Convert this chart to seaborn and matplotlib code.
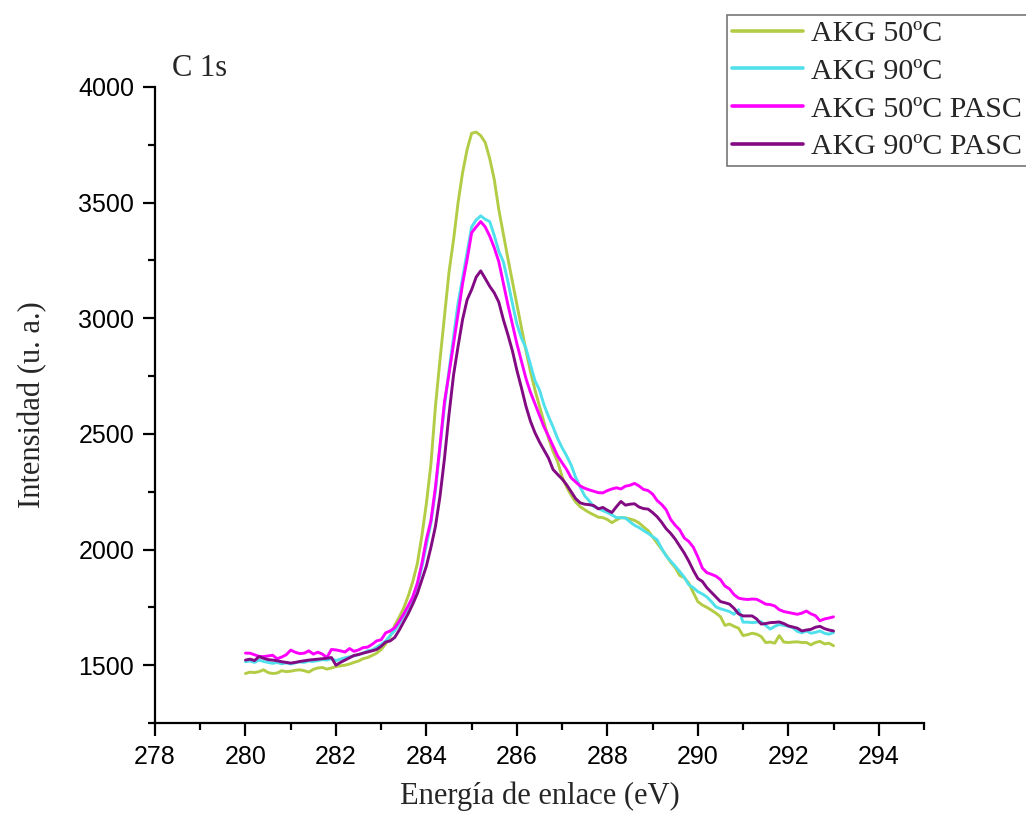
import numpy as np
import pandas as pd
import matplotlib
matplotlib.use("Agg")
import matplotlib.pyplot as plt
import seaborn as sns
from matplotlib.ticker import MultipleLocator

# ---------------- data ----------------
energy = np.round(np.arange(280.0, 293.05, 0.1), 1)

akg50 = [1464, 1470, 1468, 1472, 1480, 1468, 1464, 1466, 1476, 1472,
         1474, 1478, 1480, 1476, 1470, 1482, 1488, 1490, 1483, 1488,
         1494, 1497, 1500, 1505, 1512, 1518, 1528, 1533, 1542, 1552,
         1568, 1592, 1625, 1672, 1708, 1748, 1800, 1862, 1940, 2060,
         2200, 2370, 2620, 2820, 3010, 3200, 3340, 3500, 3630, 3730,
         3800, 3805, 3790, 3760, 3690, 3600, 3470, 3365, 3260, 3160,
         3060, 2960, 2860, 2770, 2690, 2620, 2550, 2480, 2425, 2380,
         2315, 2270, 2235, 2205, 2185, 2172, 2160, 2150, 2140, 2138,
         2130, 2116, 2128, 2138, 2137, 2132, 2126, 2115, 2098, 2082,
         2055, 2028, 2002, 1975, 1945, 1922, 1888, 1878, 1855, 1814,
         1775, 1760, 1750, 1738, 1725, 1710, 1672, 1678, 1668, 1660,
         1628, 1632, 1638, 1634, 1624, 1598, 1600, 1595, 1628, 1600,
         1598, 1600, 1601, 1598, 1598, 1588, 1598, 1603, 1592, 1595,
         1584]

akg90 = [1515, 1518, 1512, 1522, 1516, 1512, 1508, 1512, 1506, 1510,
         1505, 1510, 1514, 1512, 1518, 1516, 1520, 1524, 1522, 1528,
         1520, 1526, 1532, 1536, 1540, 1546, 1552, 1562, 1566, 1578,
         1590, 1605, 1628, 1650, 1680, 1715, 1750, 1790, 1845, 1925,
         2020, 2115, 2255, 2440, 2620, 2775, 2920, 3066, 3175, 3285,
         3395, 3425, 3443, 3428, 3418, 3358, 3290, 3245, 3160, 3065,
         2975, 2915, 2870, 2800, 2730, 2690, 2625, 2575, 2530, 2480,
         2440, 2405, 2365, 2312, 2270, 2232, 2210, 2186, 2178, 2168,
         2160, 2150, 2138, 2138, 2136, 2120, 2105, 2095, 2082, 2070,
         2056, 2042, 2005, 1972, 1950, 1928, 1905, 1880, 1848, 1835,
         1818, 1808, 1795, 1775, 1752, 1744, 1738, 1732, 1720, 1740,
         1686, 1686, 1684, 1686, 1688, 1672, 1656, 1668, 1676, 1672,
         1668, 1662, 1646, 1640, 1648, 1638, 1642, 1648, 1638, 1634,
         1641]

akg50_pasc = [1552, 1552, 1545, 1538, 1537, 1540, 1543, 1528, 1535, 1545,
              1565, 1556, 1550, 1552, 1562, 1548, 1556, 1548, 1533, 1568,
              1566, 1562, 1557, 1572, 1560, 1566, 1576, 1578, 1590, 1605,
              1610, 1640, 1648, 1662, 1690, 1722, 1758, 1796, 1855, 1940,
              2044, 2125, 2270, 2450, 2640, 2760, 2890, 3020, 3150, 3255,
              3370, 3395, 3418, 3395, 3355, 3305, 3245, 3152, 3060, 2975,
              2890, 2815, 2740, 2680, 2630, 2580, 2530, 2490, 2447, 2405,
              2375, 2346, 2310, 2292, 2275, 2265, 2258, 2252, 2246, 2245,
              2255, 2262, 2267, 2262, 2274, 2278, 2286, 2275, 2260, 2255,
              2240, 2212, 2195, 2172, 2130, 2105, 2085, 2050, 2035, 2010,
              1968, 1920, 1900, 1893, 1885, 1870, 1842, 1830, 1805, 1790,
              1786, 1784, 1786, 1785, 1775, 1764, 1762, 1756, 1740, 1732,
              1728, 1724, 1720, 1725, 1734, 1722, 1714, 1692, 1700, 1704,
              1709]

akg90_pasc = [1522, 1526, 1520, 1537, 1530, 1524, 1522, 1519, 1515, 1512,
              1509, 1512, 1516, 1519, 1522, 1524, 1526, 1528, 1530, 1533,
              1500, 1512, 1522, 1532, 1542, 1546, 1552, 1557, 1562, 1568,
              1582, 1600, 1605, 1620, 1652, 1688, 1724, 1765, 1810, 1870,
              1929, 2010, 2100, 2230, 2395, 2585, 2755, 2879, 2995, 3080,
              3124, 3178, 3205, 3172, 3138, 3110, 3070, 2995, 2930, 2860,
              2775, 2700, 2620, 2555, 2505, 2465, 2430, 2395, 2346, 2325,
              2305, 2280, 2250, 2220, 2202, 2196, 2194, 2190, 2176, 2182,
              2170, 2160, 2185, 2208, 2192, 2196, 2198, 2184, 2177, 2175,
              2160, 2142, 2118, 2090, 2070, 2045, 2015, 1985, 1950, 1910,
              1875, 1862, 1835, 1815, 1795, 1775, 1770, 1764, 1746, 1722,
              1713, 1713, 1713, 1700, 1678, 1680, 1684, 1685, 1687, 1680,
              1670, 1665, 1660, 1648, 1652, 1655, 1664, 1668, 1658, 1652,
              1648]

series_names = ["AKG 50ºC", "AKG 90ºC", "AKG 50ºC PASC", "AKG 90ºC PASC"]
series_values = [akg50, akg90, akg50_pasc, akg90_pasc]
colors = ["#B3CC46", "#50E0EC", "#FF00FF", "#820A82"]

x_ticks = [278, 280, 282, 284, 286, 288, 290, 292, 294]
y_ticks = [1500, 2000, 2500, 3000, 3500, 4000]

df = pd.concat([pd.DataFrame({"energy": energy, "intensity": v, "serie": n})
                for n, v in zip(series_names, series_values)], ignore_index=True)

# ---------------- style ----------------
sns.set_style("ticks")
plt.rcParams["font.family"] = ["Liberation Sans", "DejaVu Sans"]

W, H = 1026, 817
fig = plt.figure(figsize=(W / 100, H / 100), dpi=100)
ax = fig.add_axes([155 / W, 1 - 723 / H, (924 - 155) / W, (723 - 87) / H])

sns.lineplot(data=df, x="energy", y="intensity", hue="serie",
             palette=dict(zip(series_names, colors)), hue_order=series_names,
             sort=False, linewidth=2.1, legend=False, ax=ax)

ax.set_xlim(278, 295)
ax.set_ylim(1250, 4000)
ax.set_xticks(x_ticks)
ax.set_yticks(y_ticks)
ax.xaxis.set_minor_locator(MultipleLocator(1))
ax.yaxis.set_minor_locator(MultipleLocator(250))
for s in ["top", "right"]:
    ax.spines[s].set_visible(False)
for s in ["left", "bottom"]:
    ax.spines[s].set_linewidth(1.6)
    ax.spines[s].set_color("black")
ax.tick_params(which="major", direction="out", length=9, width=1.6,
               labelsize=18, colors="black")
ax.tick_params(which="minor", direction="out", length=5, width=1.6, colors="black")
ax.tick_params(axis="y", which="major", pad=6)
ax.tick_params(axis="x", which="major", pad=7)

serif = ["Liberation Serif", "DejaVu Serif"]
ax.set_xlabel("Energía de enlace (eV)", fontsize=22, family=serif)
ax.set_ylabel("Intensidad (u. a.)", fontsize=22, family=serif)
ax.xaxis.set_label_coords(0.5, -0.092)
ax.yaxis.set_label_coords(-0.14, 0.5)

fig.text(172 / W, 1 - 76 / H, "C 1s", fontsize=22, family=serif,
         ha="left", va="baseline")

fs_leg = 21.5
leg = fig.legend(handles=list(ax.lines), labels=series_names,
                 loc="upper left", bbox_to_anchor=(727 / W, 1 - 15 / H),
                 bbox_transform=fig.transFigure, frameon=True, fancybox=False,
                 prop={"family": serif, "size": fs_leg}, handlelength=2.37,
                 handletextpad=0.27, labelspacing=0.36, borderpad=0.18,
                 borderaxespad=0)
leg.get_frame().set_edgecolor("#555555")
leg.get_frame().set_linewidth(1.2)
for h in leg.get_lines():
    h.set_linewidth(2.6)

fig.savefig("out.png", dpi=100)
